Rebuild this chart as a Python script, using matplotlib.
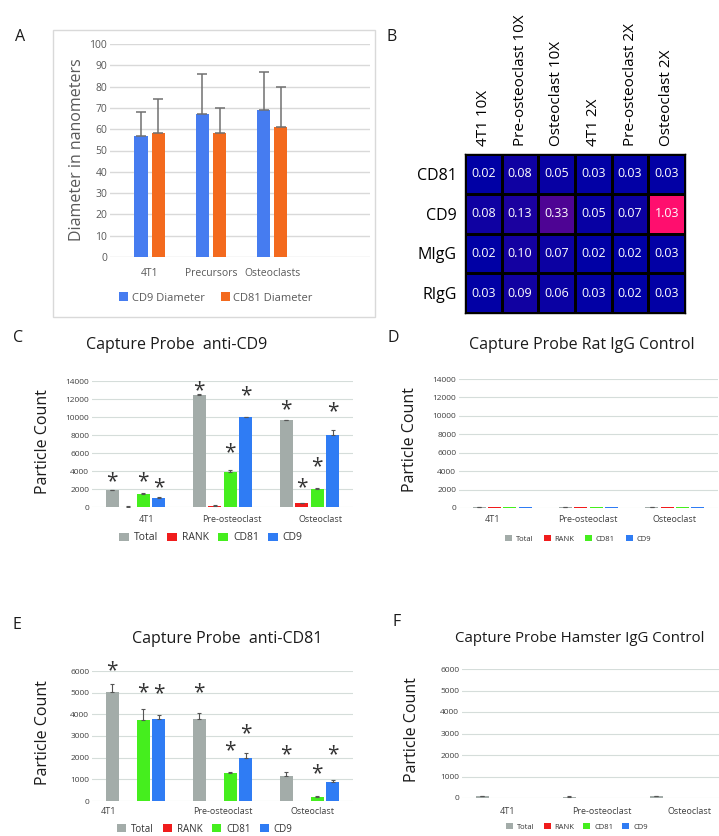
import numpy as np
import matplotlib
matplotlib.use('Agg')
import matplotlib.pyplot as plt
from matplotlib.colors import LinearSegmentedColormap
from matplotlib.patches import Rectangle
from matplotlib.transforms import ScaledTranslation

plt.rcParams['font.family'] = ['Open Sans', 'DejaVu Sans']

W, H, DPI = 719, 836, 100

# --- panel A: vesicle diameters ---
a_groups = ['4T1', 'Precursors', 'Osteoclasts']
a_cd9 = [57, 67, 69]
a_cd9_err = [11, 19, 18]
a_cd81 = [58, 58, 61]
a_cd81_err = [16, 12, 19]

# --- panel B: heatmap ---
b_cols = ['4T1 10X', 'Pre-osteoclast 10X', 'Osteoclast 10X',
          '4T1 2X', 'Pre-osteoclast 2X', 'Osteoclast 2X']
b_rows = ['CD81', 'CD9', 'MIgG', 'RIgG']
b_cd81 = [0.02, 0.08, 0.05, 0.03, 0.03, 0.03]
b_cd9 = [0.08, 0.13, 0.33, 0.05, 0.07, 1.03]
b_migg = [0.02, 0.10, 0.07, 0.02, 0.02, 0.03]
b_rigg = [0.03, 0.09, 0.06, 0.03, 0.02, 0.03]

# --- panels C-F: particle counts ---
cells = ['4T1', 'Pre-osteoclast', 'Osteoclast']
markers = ['Total', 'RANK', 'CD81', 'CD9']

c_total = [1870, 12450, 9620]
c_total_err = [60, 60, 60]
c_rank = [50, 140, 400]
c_rank_err = [20, 40, 70]
c_cd81 = [1490, 3900, 1960]
c_cd81_err = [90, 250, 100]
c_cd9 = [1000, 9950, 8050]
c_cd9_err = [60, 100, 550]
c_star_total = [3400, 13550, 11450]
c_star_rank = [None, None, 2800]
c_star_cd81 = [3400, 6600, 5100]
c_star_cd9 = [2800, 13000, 11200]

d_total = [110, 100, 100]
d_total_err = [30, 25, 25]
d_rank = [110, 100, 110]
d_cd81 = [100, 100, 100]
d_cd9 = [110, 110, 110]

e_total = [5050, 3780, 1170]
e_total_err = [350, 300, 180]
e_rank = [0, 15, 15]
e_cd81 = [3750, 1280, 170]
e_cd81_err = [480, 70, 60]
e_cd9 = [3800, 1980, 860]
e_cd9_err = [180, 230, 110]
e_star_total = [6280, 5240, 2400]
e_star_cd81 = [5240, 2560, 1500]
e_star_cd9 = [5200, 3380, 2380]

f_total = [70, 60, 80]
f_total_err = [25, 20, 20]
f_rank = [0, 0, 0]
f_cd81 = [0, 0, 0]
f_cd9 = [0, 0, 0]

BAR_COLORS = ['#A3ACA9', '#F01C1C', '#45EE1E', '#2F7CF4']


def px_rect(x0, y0, x1, y1):
    return [x0 / W, 1 - y1 / H, (x1 - x0) / W, (y1 - y0) / H]


def fxy(x, y):
    return (x / W, 1 - y / H)


fig = plt.figure(figsize=(W / DPI, H / DPI), dpi=DPI)

# ---------------- panel A ----------------
fig.patches.append(Rectangle(fxy(53, 317), (375 - 53) / W, (317 - 30) / H,
                             transform=fig.transFigure, fill=False,
                             ec='#D9D9D9', lw=1))
axa = fig.add_axes(px_rect(110, 44, 370, 257))
xa = np.arange(len(a_groups))
err_kw = dict(ecolor='#707070', elinewidth=1.1, capsize=3.5, capthick=1.1)
b1 = axa.bar(xa - 0.14, a_cd9, 0.22, color='#467CF0', label='CD9 Diameter',
             yerr=[np.zeros(3), a_cd9_err], error_kw=err_kw, zorder=3)
b2 = axa.bar(xa + 0.14, a_cd81, 0.22, color='#F36A1E', label='CD81 Diameter',
             yerr=[np.zeros(3), a_cd81_err], error_kw=err_kw, zorder=3)
axa.set_xlim(-0.65, 3.6)
axa.set_ylim(0, 100)
axa.set_yticks(np.arange(0, 101, 10))
axa.set_xticks(xa, a_groups)
axa.grid(axis='y', color='#D9D9D9', lw=1)
axa.set_axisbelow(True)
for s in axa.spines.values():
    s.set_visible(False)
axa.tick_params(length=0, labelsize=7.5, labelcolor='#595959')
axa.tick_params(axis='x', pad=8)
axa.tick_params(axis='y', pad=2)
fig.text(*fxy(77, 150), 'Diameter in nanometers', rotation=90, ha='center',
         va='center', fontsize=11.5, color='#595959')
fig.legend(handles=[b1, b2], loc='center', bbox_to_anchor=fxy(216, 298),
           ncol=2, frameon=False, fontsize=8, handlelength=0.8,
           handleheight=0.8, handletextpad=0.3, columnspacing=1.5,
           labelcolor='#595959')

# ---------------- panel B ----------------
axb = fig.add_axes(px_rect(465, 154, 685, 313))
heat = np.array([b_cd81, b_cd9, b_migg, b_rigg])
cmap = LinearSegmentedColormap.from_list('bp', ['#0000A5', '#FF0E6E'])
axb.pcolormesh(heat, cmap=cmap, vmin=0.02, vmax=1.03,
               edgecolors='black', linewidth=0.8)
axb.set_xlim(0, len(b_cols))
axb.set_ylim(len(b_rows), 0)
axb.xaxis.tick_top()
axb.set_xticks(np.arange(len(b_cols)) + 0.5, b_cols, rotation=90)
axb.set_yticks(np.arange(len(b_rows)) + 0.5, b_rows)
axb.tick_params(length=0, labelsize=11)
axb.tick_params(axis='x', pad=6)
axb.tick_params(axis='y', pad=6, labelsize=11.5)
for s in axb.spines.values():
    s.set_linewidth(1)
for i in range(len(b_rows)):
    for j in range(len(b_cols)):
        axb.text(j + 0.5, i + 0.5, f'{heat[i, j]:.2f}', ha='center',
                 va='center', color='white', fontsize=9)


# ---------------- panels C-F ----------------
def bar_panel(rect, series, errs, stars, ymax, ystep, label_dx, label_dy,
              leg_xy, leg_fs, leg_cs, tick_fs=6):
    ax = fig.add_axes(rect)
    x = np.arange(len(cells))
    handles = []
    for k, (vals, err) in enumerate(zip(series, errs)):
        off = (k - 1.5) * 0.178
        yerr = None if err is None else [np.zeros(len(vals)), err]
        h = ax.bar(x + off, vals, 0.15, color=BAR_COLORS[k], label=markers[k],
                   yerr=yerr, zorder=3,
                   error_kw=dict(ecolor='#555555', elinewidth=0.8,
                                 capsize=1.5, capthick=0.8))
        handles.append(h)
        if stars[k] is not None:
            st = ax.transData + ScaledTranslation(0, -0.055, fig.dpi_scale_trans)
            for i, sy in enumerate(stars[k]):
                if sy is not None:
                    ax.text(x[i] + off, sy, '*', ha='center', va='center',
                            fontsize=15, color='#333333', transform=st)
    ax.set_xlim(-0.5, len(cells) - 0.5)
    ax.set_ylim(0, ymax)
    ax.set_yticks(np.arange(0, ymax + 1, ystep))
    ax.set_xticks([])
    ax.grid(axis='y', color='#D5DDDA', lw=0.8)
    ax.set_axisbelow(True)
    for s in ax.spines.values():
        s.set_visible(False)
    ax.tick_params(axis='y', length=0, labelsize=tick_fs, pad=2,
                   labelcolor='#404040')
    for i, name in enumerate(cells):
        tr = ax.get_xaxis_transform() + ScaledTranslation(
            label_dx[i] / DPI, -label_dy / DPI, fig.dpi_scale_trans)
        ax.text(x[i], 0, name, ha='center', va='center', fontsize=6.5,
                color='#404040', transform=tr)
    fig.legend(handles=handles, loc='center', bbox_to_anchor=leg_xy, ncol=4,
               frameon=False, fontsize=leg_fs, handlelength=0.9,
               handleheight=0.9, handletextpad=0.5, columnspacing=leg_cs,
               labelcolor='#333333')
    return ax


# C
bar_panel(px_rect(92, 381, 353, 507),
          [c_total, c_rank, c_cd81, c_cd9],
          [c_total_err, c_rank_err, c_cd81_err, c_cd9_err],
          [c_star_total, c_star_rank, c_star_cd81, c_star_cd9],
          14000, 2000, [11, 9, 11], 12, fxy(211, 538), 7.5, 0.9)
# D
bar_panel(px_rect(459, 379, 718, 508),
          [d_total, d_rank, d_cd81, d_cd9],
          [d_total_err, None, None, None],
          [None, None, None, None],
          14000, 2000, [-10, -1, 0], 11, fxy(578, 539), 5.5, 1.4)
# E
bar_panel(px_rect(92, 671, 353, 801),
          [e_total, e_rank, e_cd81, e_cd9],
          [e_total_err, None, e_cd81_err, e_cd9_err],
          [e_star_total, None, e_star_cd81, e_star_cd9],
          6000, 1000, [-27, 0, 3], 10, fxy(205, 829), 7, 1.0)
# F
bar_panel(px_rect(462, 669, 723, 798),
          [f_total, f_rank, f_cd81, f_cd9],
          [f_total_err, None, None, None],
          [None, None, None, None],
          6000, 1000, [2, 9, 10], 13, fxy(577, 827), 5.5, 1.2)

# y labels
for (x, y) in [(43, 442), (410, 440), (43, 733), (412, 730)]:
    fig.text(*fxy(x, y), 'Particle Count', rotation=90, ha='center',
             va='center', fontsize=11.5, color='#1a1a1a')

# titles
fig.text(*fxy(177, 345), 'Capture Probe  anti-CD9', ha='center', va='center',
         fontsize=11.5, color='#1a1a1a')
fig.text(*fxy(582, 345), 'Capture Probe Rat IgG Control', ha='center',
         va='center', fontsize=11.5, color='#1a1a1a')
fig.text(*fxy(227, 639), 'Capture Probe  anti-CD81', ha='center',
         va='center', fontsize=11.5, color='#1a1a1a')
fig.text(*fxy(455, 639), 'Capture Probe Hamster IgG Control', ha='left',
         va='center', fontsize=10.8, color='#1a1a1a')

# panel letters
for letter, (x, y) in zip('ABCDEF', [(20, 37), (392, 37), (18, 338),
                                     (393, 338), (17, 625), (397, 622)]):
    fig.text(*fxy(x, y), letter, ha='center', va='center', fontsize=11.5,
             color='#1a1a1a')

fig.savefig('out.png', dpi=DPI)
